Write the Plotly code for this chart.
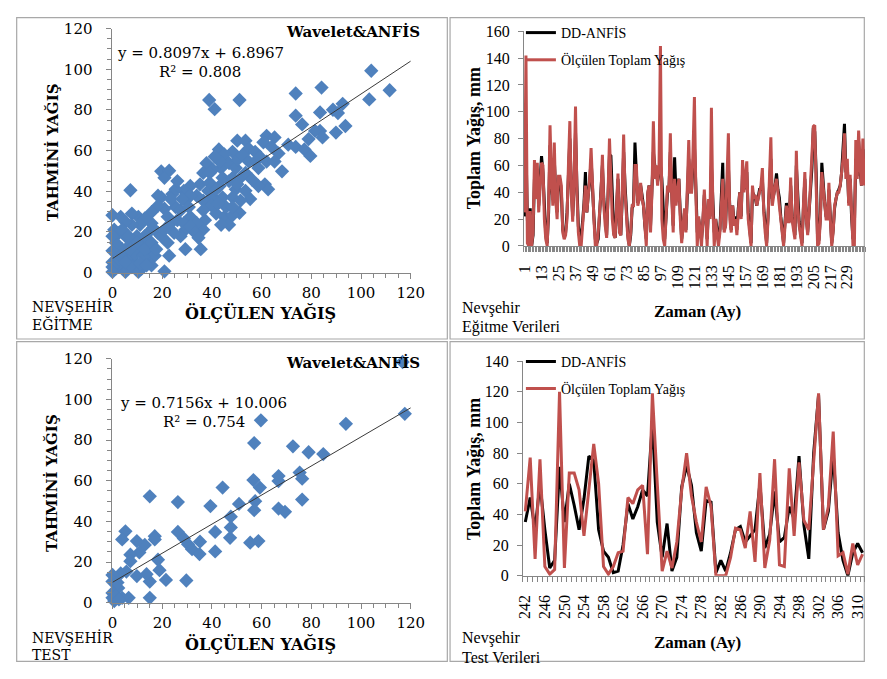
import plotly.graph_objects as go

# Page is 887x679; the default 8px body margin surrounds the figure, so the figure itself is 871x663.
PAGE_W, PAGE_H, OFF = 887, 679, 8
W, H = PAGE_W - 2 * OFF, PAGE_H - 2 * OFF
SERIF_W = "DejaVu Serif"      # wide serif for the (stretched) scatter panels
SERIF = "Liberation Serif"    # Times-like serif for the time-series panels
BLUE = "#4F81BD"
RED = "#C0504D"
AX = "#868686"

# ---------------- data ----------------
# Training scatter (Wavelet&ANFIS): observed vs predicted
train_obs = [104.1, 111.5, 103.3, 84.1, 73.7, 38.9, 51.1, 41.1, 73.7, 83.5, 88.7, 92.6, 90.7, 76.3, 83.5, 93.7,
             89.9, 81.5, 84.5, 78.9, 70.7, 73.7, 77.2, 79.6, 62.0, 65.2, 60.7, 64.0, 66.8, 50.2, 53.5, 54.8,
             48.3, 42.8, 45.0, 57.4, 62.0, 65.2, 68.2, 58.7, 61.3, 62.6, 58.7, 37.8, 40.4, 43.7, 46.9, 49.6,
             51.5, 53.5, 56.1, 36.5, 35.2, 31.3, 39.1, 43.1, 46.9, 49.6, 53.5, 55.4, 51.1, 44.3, 40.4, 36.5,
             33.9, 28.7, 25.4, 19.6, 22.8, 20.9, 7.2, 26.1, 24.1, 19.6, 29.3, 25.4, 20.9, 22.2, 27.4, 30.7,
             31.3, 39.8, 41.7, 45.0, 46.9, 43.7, 37.2, 36.5, 33.9, 29.3, 27.4, 24.8, 22.2, 29.3, 35.5, 22.8,
             20.9, 18.3, 15.7, 13.0, 9.8, 11.7, 10.4, 7.8, 3.3, 0.0, 0.7, 2.6, 5.2, 7.8, 10.4, 14.3,
             17.0, 13.0, 15.7, 11.7, 9.1, 6.5, 3.9, 1.3, 0.0, 0.0, 1.3, 3.9, 5.2, 7.8, 10.4, 2.6,
             5.9, 9.1, 12.4, 13.0, 15.7, 17.6, 14.3, 16.3, 19.6, 20.9, 23.5, 26.1, 28.7, 31.3, 33.3, 34.6,
             36.5, 38.5, 41.7, 44.3, 48.3, 50.2, 48.3, 45.7, 42.4, 48.3, 51.5, 48.3, 50.2, 52.2, 54.8, 57.4,
             59.3, 43.1, 41.1, 39.1, 31.3, 28.0, 23.5, 18.3, 18.3, 15.7, 13.0, 11.1, 7.8, 5.2, 1.3, 3.9,
             0.0, 6.5, 9.8, 7.2, 3.3, 11.1, 13.7, 5.2, 0.0, 0.0]
train_pred = [99.3, 89.7, 85.2, 91.0, 88.1, 84.9, 84.9, 80.4, 77.2, 78.8, 80.1, 83.0, 78.5, 72.9, 69.7, 72.1,
              68.9, 69.7, 66.5, 65.7, 62.9, 61.8, 60.6, 57.4, 67.3, 66.5, 64.1, 61.8, 58.6, 64.9, 64.9, 61.0,
              59.4, 60.6, 58.1, 54.6, 54.6, 54.6, 49.8, 51.4, 43.4, 41.0, 42.6, 53.8, 50.6, 51.4, 53.8, 51.4,
              46.6, 49.0, 45.8, 49.0, 43.4, 42.6, 44.2, 42.6, 45.0, 41.0, 40.2, 36.2, 29.4, 37.0, 37.0, 35.4,
              37.8, 40.2, 41.0, 49.8, 50.1, 46.6, 40.5, 45.0, 38.6, 37.0, 35.4, 32.2, 31.4, 27.4, 30.6, 32.2,
              27.4, 33.0, 29.0, 27.4, 23.5, 23.5, 25.8, 21.1, 24.3, 21.1, 17.9, 19.5, 14.7, 11.5, 11.5, 8.3,
              0.6, 19.5, 24.3, 17.9, 17.9, 14.7, 27.4, 29.0, 27.4, 28.2, 21.1, 19.5, 17.9, 14.7, 11.5, 11.5,
              8.3, 6.7, 3.5, 1.9, 5.1, 8.3, 11.5, 14.7, 10.7, 5.1, 1.9, 3.5, 0.3, 2.7, 0.3, 6.7,
              12.3, 9.1, 8.3, 11.5, 14.7, 11.5, 19.5, 21.9, 17.9, 21.1, 24.3, 25.8, 24.3, 22.7, 19.5, 17.1,
              30.6, 40.2, 41.0, 46.6, 46.6, 43.4, 37.0, 32.2, 33.8, 28.2, 35.4, 32.2, 55.4, 57.8, 54.6, 59.4,
              57.0, 54.6, 57.0, 49.0, 37.8, 36.2, 36.2, 37.8, 32.9, 29.7, 26.6, 23.5, 23.5, 25.0, 19.5, 21.1,
              17.9, 17.9, 14.7, 11.5, 8.3, 4.3, 3.5, 5.1, 2.7, 0.3]
train_slope, train_intercept, train_r2 = 0.8097, 6.8967, 0.808

# Test scatter (Wavelet&ANFIS)
test_obs = [116.7, 117.6, 93.9, 59.7, 57.0, 72.6, 78.9, 84.8, 75.3, 76.3, 66.8, 66.8, 56.7, 59.3, 44.3, 15.0,
            26.3, 39.4, 50.9, 57.4, 76.3, 57.0, 66.8, 69.4, 47.6, 47.6, 47.3, 41.3, 55.4, 58.7, 41.3, 26.3,
            28.7, 30.4, 32.0, 35.0, 35.2, 29.7, 21.5, 18.9, 18.3, 17.0, 17.0, 15.0, 15.0, 13.7, 13.0, 10.8,
            9.8, 9.8, 7.2, 7.2, 5.2, 3.9, 5.6, 3.3, 6.5, 3.9, 2.3, 0.0, 0.0, 0.0, 0.7, 0.0, 1.3, 2.6, 2.0]
test_pred = [118.4, 92.9, 88.0, 89.7, 78.5, 76.9, 74.0, 73.1, 64.0, 61.0, 62.3, 59.8, 60.3, 56.6, 56.6, 52.3,
             49.5, 47.5, 48.6, 49.9, 50.7, 45.5, 46.3, 44.7, 42.3, 37.0, 31.9, 34.8, 29.5, 30.3, 25.2, 34.8,
             31.6, 28.7, 26.3, 23.9, 30.0, 10.9, 11.2, 16.0, 21.1, 32.7, 31.1, 10.4, 2.4, 14.0, 28.4, 24.7,
             30.3, 13.1, 23.6, 20.4, 35.1, 31.1, 15.3, 14.4, 2.4, 2.4, 7.2, 13.6, 10.4, 4.8, 0.8, 2.4, 3.2, 1.6, 9.9]
test_slope, test_intercept, test_r2 = 0.7156, 10.006, 0.754

# Training time series (months 1..241)
train_months = list(range(1, 242))
train_measured = [
    25, 142, 2, 0, 26, 0, 10, 64, 35, 62, 25, 40,
    62, 60, 20, 5, 0, 30, 90, 50, 30, 77, 35, 20,
    52, 52, 45, 10, 5, 8, 20, 60, 93, 40, 18, 50,
    104, 40, 10, 0, 0, 15, 30, 45, 25, 40, 50, 73,
    40, 20, 0, 0, 10, 25, 40, 68, 30, 15, 6, 40,
    80, 50, 20, 8, 6, 30, 54, 10, 8, 40, 83, 40,
    20, 5, 0, 10, 30, 30, 60, 60, 30, 35, 47, 35,
    30, 10, 0, 40, 45, 10, 40, 93, 50, 60, 45, 60,
    149, 20, 5, 0, 20, 45, 40, 84, 35, 10, 50, 30,
    40, 50, 20, 2, 15, 28, 10, 40, 79, 40, 40, 70,
    111, 40, 0, 22, 10, 0, 20, 42, 20, 0, 35, 20,
    103, 30, 0, 20, 8, 0, 10, 30, 50, 10, 15, 50,
    84, 20, 10, 30, 15, 20, 8, 25, 40, 20, 64, 40,
    50, 63, 20, 8, 0, 45, 35, 38, 30, 35, 40, 45,
    58, 25, 10, 0, 20, 50, 81, 30, 40, 45, 50, 40,
    35, 20, 10, 0, 15, 30, 18, 18, 51, 20, 12, 5,
    71, 30, 15, 8, 0, 30, 55, 20, 8, 25, 45, 60,
    89, 90, 50, 0, 2, 20, 55, 45, 30, 20, 20, 47,
    20, 0, 10, 30, 35, 40, 40, 45, 55, 65, 84, 50,
    65, 30, 53, 20, 0, 0, 79, 50, 86, 60, 45, 80,
    45]
train_ddanfis = [
    22, 75, 20, 0, 28, 0, 8, 50, 40, 55, 30, 45,
    67, 55, 25, 8, 2, 25, 75, 45, 35, 65, 40, 25,
    48, 50, 40, 12, 8, 10, 25, 55, 80, 45, 22, 45,
    85, 45, 15, 5, 8, 18, 32, 55, 25, 38, 48, 65,
    40, 22, 5, 2, 5, 25, 38, 60, 35, 18, 8, 38,
    68, 67, 30, 10, 6, 28, 50, 15, 8, 35, 70, 45,
    22, 8, 0, 8, 28, 32, 77, 55, 32, 35, 45, 38,
    30, 15, 5, 38, 45, 15, 42, 70, 60, 58, 48, 55,
    60, 50, 20, 5, 22, 40, 42, 70, 40, 15, 66, 40,
    45, 50, 25, 5, 15, 25, 12, 38, 65, 45, 42, 60,
    75, 45, 10, 20, 12, 5, 18, 38, 22, 5, 30, 22,
    60, 35, 10, 20, 12, 5, 12, 35, 62, 12, 15, 45,
    60, 28, 12, 30, 18, 22, 12, 28, 40, 22, 55, 42,
    48, 55, 25, 10, 2, 40, 38, 36, 30, 35, 42, 42,
    50, 28, 12, 2, 22, 45, 65, 35, 38, 45, 54, 42,
    36, 22, 12, 2, 18, 32, 20, 18, 45, 22, 15, 8,
    60, 32, 18, 10, 2, 28, 50, 22, 10, 25, 42, 58,
    88, 85, 55, 5, 5, 22, 62, 45, 32, 22, 20, 42,
    22, 2, 12, 28, 35, 40, 42, 45, 55, 70, 91, 55,
    60, 32, 50, 22, 5, 15, 65, 52, 78, 58, 45, 72,
    48]
train_ticks = [1, 13, 25, 37, 49, 61, 73, 85, 97, 109, 121, 133, 145, 157, 169, 181, 193, 205, 217, 229]

# Test time series (months 242..311)
test_months = list(range(242, 312))
test_measured = [42, 77, 11, 76, 6, 1, 4, 120, 5, 67,
                 67, 56, 26, 55, 86, 60, 6, 1, 6, 15,
                 16, 51, 47, 56, 59, 14, 119, 60, 3, 16,
                 5, 22, 56, 80, 52, 35, 22, 58, 45, 0,
                 0, 0, 12, 31, 30, 18, 42, 9, 67, 5,
                 23, 76, 7, 6, 70, 26, 74, 36, 30, 75,
                 119, 30, 45, 94, 13, 15, 1, 21, 7, 14]
test_ddanfis = [35, 51, 30, 60, 30, 5, 10, 71, 35, 60,
                46, 30, 50, 78, 75, 30, 16, 12, 2, 3,
                20, 47, 37, 45, 56, 52, 100, 35, 12, 34,
                3, 12, 58, 72, 59, 28, 16, 49, 48, 2,
                10, 3, 15, 30, 32, 22, 26, 30, 60, 18,
                27, 55, 22, 25, 45, 37, 78, 33, 11, 80,
                118, 30, 42, 80, 28, 10, 0, 15, 21, 15]
test_ticks = [242, 246, 250, 254, 258, 262, 266, 270, 274, 278, 282, 286, 290, 294, 298, 302, 306, 310]


# ---------------- helpers: page pixel -> figure paper fraction ----------------
def fx(x):
    return min(1.0, max(0.0, (x - OFF) / W))


def fy(y):
    return min(1.0, max(0.0, 1 - (y - OFF) / H))


fig = go.Figure()

# scatter panels
for obs, pred, slope, icpt, xa, ya in [
        (train_obs, train_pred, train_slope, train_intercept, "x", "y"),
        (test_obs, test_pred, test_slope, test_intercept, "x3", "y3")]:
    fig.add_trace(go.Scatter(x=obs, y=pred, mode="markers", xaxis=xa, yaxis=ya,
                             marker=dict(symbol="diamond", size=11, color=BLUE),
                             cliponaxis=False, showlegend=False))
    fig.add_trace(go.Scatter(x=[0, 120], y=[icpt, slope * 120 + icpt], mode="lines",
                             xaxis=xa, yaxis=ya, line=dict(color="#3a3a3a", width=1),
                             showlegend=False))

# line panels
for months, meas, pred, xa, ya, lg in [
        (train_months, train_measured, train_ddanfis, "x2", "y2", "legend"),
        (test_months, test_measured, test_ddanfis, "x4", "y4", "legend2")]:
    fig.add_trace(go.Scatter(x=months, y=pred, mode="lines", name="DD-ANFİS",
                             xaxis=xa, yaxis=ya, line=dict(color="black", width=3),
                             legend=lg, legendgroup=lg + "a"))
    fig.add_trace(go.Scatter(x=months, y=meas, mode="lines", name="Ölçülen Toplam Yağış",
                             xaxis=xa, yaxis=ya, line=dict(color=RED, width=3),
                             legend=lg, legendgroup=lg + "b"))

base = dict(showgrid=False, zeroline=False, showline=True, linecolor=AX, linewidth=1,
            tickcolor=AX, ticklen=5)
sc_font = dict(family=SERIF_W, size=15, color="black")
ts_font = dict(family=SERIF, size=16, color="black")
scat_minor = dict(dtick=5, ticks="outside", ticklen=4, tickcolor=AX, showgrid=False)
cat_minor = dict(tick0=0.5, dtick=1, ticks="outside", ticklen=5, tickcolor=AX, showgrid=False)

layout = dict(
    width=W, height=H, margin=dict(l=0, r=0, t=0, b=0),
    paper_bgcolor="white", plot_bgcolor="white", showlegend=True,
    xaxis=dict(domain=[fx(107), fx(413)], range=[0, 120], dtick=20, anchor="y", ticks="outside",
               minor=scat_minor, ticklabelstandoff=1, tickfont=sc_font, **base),
    yaxis=dict(domain=[fy(270.7), fy(20)], range=[0, 120], dtick=20, anchor="x", ticks="outside",
               minor=scat_minor, ticklabelstandoff=11, tickfont=sc_font, **base),
    xaxis3=dict(domain=[fx(107), fx(413)], range=[0, 120], dtick=20, anchor="y3", ticks="outside",
                minor=scat_minor, ticklabelstandoff=1, tickfont=sc_font, **base),
    yaxis3=dict(domain=[fy(610), fy(359.3)], range=[0, 120], dtick=20, anchor="x3", ticks="outside",
                minor=scat_minor, ticklabelstandoff=11, tickfont=sc_font, **base),
    xaxis2=dict(domain=[fx(529), fx(883)], range=[0.5, 241.5], anchor="y2", ticks="",
                tickmode="array", tickvals=train_ticks, ticktext=[str(t) for t in train_ticks],
                tickangle=-90, ticklabelstandoff=12, minor=cat_minor, tickfont=ts_font, **base),
    yaxis2=dict(domain=[fy(243.3), fy(22.7)], range=[0, 160], dtick=20, anchor="x2", ticks="outside",
                ticklabelstandoff=5, tickfont=ts_font, **base),
    xaxis4=dict(domain=[fx(528), fx(883)], range=[241.5, 311.5], anchor="y4", ticks="",
                tickmode="array", tickvals=test_ticks, ticktext=[str(t) for t in test_ticks],
                tickangle=-90, ticklabelstandoff=12, minor=cat_minor, tickfont=ts_font, **base),
    yaxis4=dict(domain=[fy(582.3), fy(361.7)], range=[0, 140], dtick=20, anchor="x4", ticks="outside",
                ticklabelstandoff=5, tickfont=ts_font, **base),
    legend=dict(x=fx(526), y=fy(7), xanchor="left", yanchor="top", bgcolor="rgba(0,0,0,0)",
                font=dict(family=SERIF, size=14, color="black"), tracegroupgap=6),
    legend2=dict(x=fx(526), y=fy(346), xanchor="left", yanchor="top", bgcolor="rgba(0,0,0,0)",
                 font=dict(family=SERIF, size=14, color="black"), tracegroupgap=6),
)
fig.update_layout(**layout)

# panel frames (two thin gray frames with a small gap between panels; clamped to the figure area)
shapes = []
for x0, y0, x1, y1 in [(8.7, 8.7, 450.5, 339), (453.3, 8.7, 878.3, 339),
                       (8.7, 341.7, 450.5, 670.3), (453.3, 341.7, 878.3, 670.3)]:
    shapes.append(dict(type="rect", xref="paper", yref="paper", x0=fx(x0), x1=fx(x1), y0=fy(y1), y1=fy(y0),
                       line=dict(color="#A8A8A8", width=1.2), fillcolor="rgba(0,0,0,0)", layer="below"))
fig.update_layout(shapes=shapes)


def ann(text, x, y, size=15, bold=False, xanchor="left", angle=0, family=SERIF_W):
    t = "<b>%s</b>" % text if bold else text
    fig.add_annotation(text=t, x=fx(x), y=fy(y), xref="paper", yref="paper", showarrow=False,
                       xanchor=xanchor, yanchor="middle", textangle=angle,
                       font=dict(family=family, size=size, color="black"))


# scatter panel texts
for dy, eq, r2, l2, eqx, r2x, eqy, r2y in [
        (0, "y = %.4fx + %.4f" % (train_slope, train_intercept), "R² = %.3f" % train_r2, "EĞİTME",
         110, 153, 45.2, 64.8),
        (340, "y = %.4fx + %.3f" % (test_slope, test_intercept), "R² = %.3f" % test_r2, "TEST",
         113, 157, 64.8, 84.4)]:
    ann("Wavelet&amp;ANFİS", 425, 22.7 + dy, size=15, bold=True, xanchor="right")
    ann(eq, eqx, eqy + dy, size=15)
    ann(r2, r2x, r2y + dy, size=15)
    ann("TAHMİNİ YAĞIŞ", 45, 147 + dy, size=15, bold=True, xanchor="center", angle=-90)
    ann("ÖLÇÜLEN YAĞIŞ", 259, 312 + dy, size=16, bold=True, xanchor="center")
    ann("NEVŞEHİR", 22, 306 + dy, size=14)
    ann(l2, 22, 324 + dy, size=14)

# line panel texts
for dy, l2 in [(0, "Eğitme Verileri"), (340, "Test Verileri")]:
    ann("Toplam Yağış, mm", 478, 132.5 + dy, size=18, bold=True, xanchor="center", angle=-90, family=SERIF)
    ann("Zaman (Ay)", 707, 311 + dy, size=17, bold=True, xanchor="center", family=SERIF)
    ann("Nevşehir", 463, 306.7 + dy, size=16, family=SERIF)
    ann(l2, 463, 326.7 + dy, size=16, family=SERIF)

fig.write_html("out.html", config={"displayModeBar": False})
